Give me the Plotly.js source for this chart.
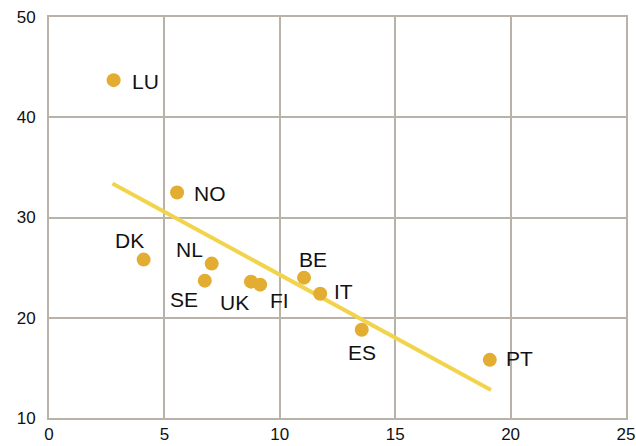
<!DOCTYPE html>
<html><head><meta charset="utf-8">
<script src="https://cdn.plot.ly/plotly-3.0.1.min.js"></script>
<style>html,body{margin:0;padding:0;background:#fff}#c{width:636px;height:446px}</style>
</head><body><div id="c"></div>
<script>
const countries = ["LU","NO","DK","NL","SE","UK","FI","BE","IT","ES","PT"];
const xVals = [2.8, 5.55, 4.1, 7.05, 6.75, 8.75, 9.15, 11.05, 11.75, 13.55, 19.1];
const yVals = [43.7, 32.5, 25.8, 25.4, 23.7, 23.6, 23.3, 24.0, 22.4, 18.8, 15.8];
const trendX = [2.75, 19.15];
const trendY = [33.4, 12.8];
const labelShiftX = [32, 33, -14, -22, -21, -16, 19, 9, 23, 0, 30];
const labelShiftY = [-1, -1, 19, 14, -19, -21, -16, 18, 2, -23, 1];

const annotations = countries.map((c, i) => ({
  x: xVals[i], y: yVals[i], text: c, showarrow: false,
  xshift: labelShiftX[i], yshift: labelShiftY[i],
  font: {family: "Liberation Sans, Arial, sans-serif", size: 21, color: "#111"}
}));

const data = [
  {x: trendX, y: trendY, mode: "lines", line: {color: "#f1d44c", width: 4}, hoverinfo: "skip"},
  {x: xVals, y: yVals, mode: "markers", marker: {color: "#e2ad30", size: 14}}
];
const axisCommon = {
  showgrid: true, gridcolor: "#b9b2a9", gridwidth: 2,
  showline: true, linecolor: "#b9b2a9", linewidth: 2, mirror: true,
  zeroline: false, ticks: "", fixedrange: true,
  tickfont: {family: "Liberation Sans, Arial, sans-serif", size: 17, color: "#111"}
};
const layout = {
  width: 636, height: 446,
  margin: {l: 49, r: 10, t: 17, b: 28},
  showlegend: false,
  paper_bgcolor: "#fff", plot_bgcolor: "#fff",
  xaxis: Object.assign({}, axisCommon, {range: [0, 25], dtick: 5, tick0: 0, ticklabelstandoff: 0, ticklabeloverflow: "allow"}),
  yaxis: Object.assign({}, axisCommon, {range: [10, 50], dtick: 10, tick0: 10, ticklabelstandoff: 8}),
  annotations: annotations
};
Plotly.newPlot("c", data, layout, {displayModeBar: false, staticPlot: true});
</script></body></html>
